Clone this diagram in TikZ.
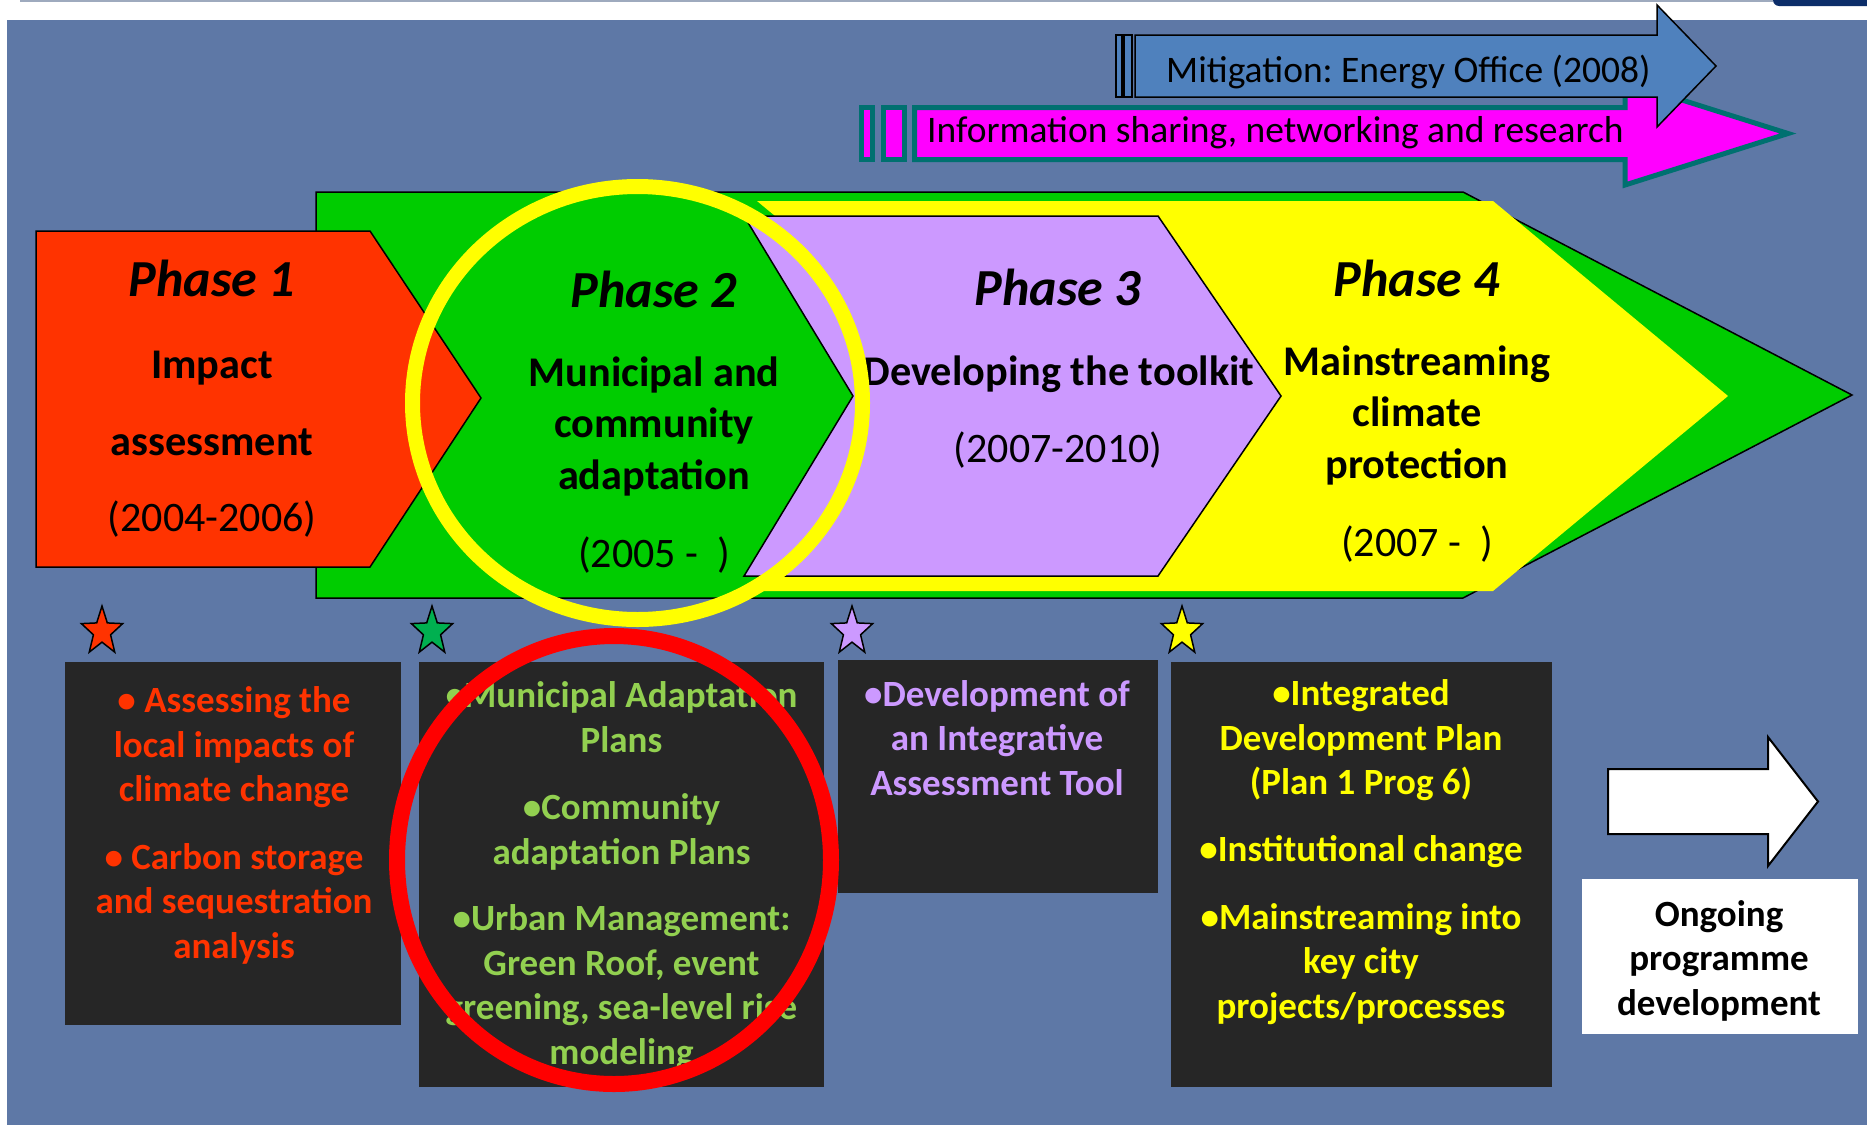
\documentclass[tikz,border=0pt]{standalone}
\usepackage{fontspec}
\setmainfont{Carlito}
\usetikzlibrary{shapes.geometric}
\frenchspacing

\definecolor{slideblue}{RGB}{94,120,166}
\definecolor{phaseone}{RGB}{255,51,0}
\definecolor{phasetwo}{RGB}{0,204,0}
\definecolor{phasethree}{RGB}{204,153,255}
\definecolor{phasefour}{RGB}{255,255,0}
\definecolor{boxgrey}{RGB}{38,38,38}
\definecolor{leafgreen}{RGB}{146,208,80}
\definecolor{mitiblue}{RGB}{79,129,189}
\definecolor{infopink}{RGB}{255,0,255}
\definecolor{infoteal}{RGB}{0,112,112}
\definecolor{stargreen}{RGB}{0,176,80}
\definecolor{cornernavy}{RGB}{12,45,105}
\definecolor{rulegrey}{RGB}{158,170,190}

\begin{document}
\begin{tikzpicture}[x=1pt, y=-1pt,
    outline/.style={draw=black, line width=1.5pt, line join=miter},
    phasehead/.style={font=\fontsize{52}{52}\selectfont\bfseries\itshape, anchor=base, inner sep=0},
    phasebody/.style={font=\fontsize{42.3}{51.5}\selectfont\bfseries, align=center, anchor=base, inner sep=0},
    phasedate/.style={font=\fontsize{42}{50}\selectfont, anchor=base, inner sep=0},
    boxtext/.style={font=\fontsize{37}{44.5}\selectfont\bfseries, align=center, anchor=base, inner sep=0},
    banner/.style={font=\fontsize{37.5}{40}\selectfont, anchor=base west, inner sep=0},
    marker/.style={star, star points=5, star point ratio=2.4, minimum size=51pt, inner sep=0,
        draw=black, line width=1.5pt, xscale=0.85, transform shape}
]
    \useasboundingbox (0,0) rectangle (1867,1125);
    % Slide background
    \fill[white] (0,0) rectangle (1867,1125);
    \fill[slideblue] (7,20) rectangle (1867,1125);
    \fill[rulegrey] (20,0) rectangle (1773,1.5);
    \fill[cornernavy, rounded corners=6pt] (1773,-12) rectangle (1885,6);

    % Information sharing arrow (the blue one lies over its head)
    \foreach \xa/\xb in {861.5/872.5, 883.5/904.5}
        \draw[fill=infopink, draw=infoteal, line width=5pt] (\xa,107.5) rectangle (\xb,159.5);
    \draw[fill=infopink, draw=infoteal, line width=5pt, line join=miter]
        (914.5,107.5) -- (1625,107.5) -- (1625,82) -- (1788,133.5) -- (1625,185) -- (1625,159.5) -- (914.5,159.5) -- cycle;
    \node[banner] (info) at (927,142) {Information sharing, networking and research};

    % Mitigation arrow
    \foreach \xa/\xb in {1116/1122, 1124/1132}
        \draw[fill=mitiblue, outline] (\xa,35) rectangle (\xb,97);
    \draw[fill=mitiblue, outline]
        (1135,35) -- (1657,35) -- (1657,5) -- (1716,66) -- (1657,127) -- (1657,97) -- (1135,97) -- cycle;
    \node[banner] (miti) at (1166,82) {Mitigation: Energy Office (2008)};

    % Big green arrow behind the phases
    \draw[fill=phasetwo, outline] (316,192) -- (1463,192) -- (1852,395) -- (1463,598) -- (316,598) -- cycle;
    % Phase 4 chevron
    \fill[phasefour] (757,201) -- (1493,201) -- (1728,396) -- (1493,591) -- (757,591) -- (992,396) -- cycle;
    % Phase 2 chevron
    \fill[phasetwo] (370,216) -- (744,216) -- (853,396) -- (744,576) -- (370,576) -- (481,396) -- cycle;
    % Phase 3 chevron
    \draw[fill=phasethree, outline] (744,216) -- (1158,216) -- (1281,396) -- (1158,576) -- (744,576) -- (853,396) -- cycle;
    % Phase 1 pentagon
    \draw[fill=phaseone, outline] (36,231) -- (370,231) -- (481,398) -- (370,567) -- (36,567) -- cycle;

    % Phase texts (multi-line nodes sit on their last baseline)
    \node[phasehead] (p1head) at (212,296) {Phase 1};
    \node[phasebody] (p1body) at (212,455) {Impact\\[25.5pt]assessment};
    \node[phasedate] (p1date) at (212,531) {(2004-2006)};

    \node[phasehead] (p2head) at (654,307) {Phase 2};
    \node[phasebody] (p2body) at (654,489) {Municipal and\\community\\adaptation};
    \node[phasedate] (p2date) at (654,567) {(2005 -~~)};

    \node[phasehead] (p3head) at (1058,305) {Phase 3};
    \node[phasebody] (p3body) at (1059,385) {Developing the toolkit};
    \node[phasedate] (p3date) at (1058,462) {(2007-2010)};

    \node[phasehead] (p4head) at (1417,296) {Phase 4};
    \node[phasebody] (p4body) at (1417,478) {Mainstreaming\\climate\\protection};
    \node[phasedate] (p4date) at (1417,556) {(2007 -~~)};

    % Yellow ring round phase 2
    \draw[phasefour, line width=15pt] (637.5,403) ellipse (225 and 216.5);

    % Stars
    \foreach \sx/\scol [count=\i] in {102/phaseone, 432/stargreen, 852/phasethree, 1182/phasefour}
        \node[marker, fill=\scol] (star\i) at (\sx,631.5) {};

    % Dark boxes
    \fill[boxgrey] (65,662) rectangle (401,1025);
    \fill[boxgrey] (419,662) rectangle (824,1087);
    \fill[boxgrey] (838,660) rectangle (1158,893);
    \fill[boxgrey] (1171,662) rectangle (1552,1087);

    \node[boxtext, text=phaseone] (box1) at (234,958)
        {• Assessing the\\local impacts of\\climate change\\[23pt]• Carbon storage\\and sequestration\\analysis};
    \node[boxtext, text=leafgreen] (box2) at (621.5,1064)
        {•Municipal Adaptation\\Plans\\[23pt]•Community\\adaptation Plans\\[22pt]•Urban Management:\\Green Roof, event\\greening, sea-level rise\\modeling};
    \node[boxtext, text=phasethree] (box3) at (997,795)
        {•Development of\\an Integrative\\Assessment Tool};
    \node[boxtext, text=phasefour] (box4) at (1361,1018)
        {•Integrated\\Development Plan\\(Plan 1 Prog 6)\\[22.5pt]•Institutional change\\[23pt]•Mainstreaming into\\key city\\projects/processes};

    % Red ring round phase 2 actions
    \draw[red, line width=16pt] (614,860) ellipse (217 and 224);

    % Ongoing arrow
    \draw[fill=white, outline, line width=2pt]
        (1608,769) -- (1768,769) -- (1768,737) -- (1818,801.5) -- (1768,866) -- (1768,834) -- (1608,834) -- cycle;
    \fill[white] (1582,879) rectangle (1858,1034);
    \node[boxtext, text=black] (ongoing) at (1719,1015) {Ongoing\\programme\\development};
\end{tikzpicture}
\end{document}
